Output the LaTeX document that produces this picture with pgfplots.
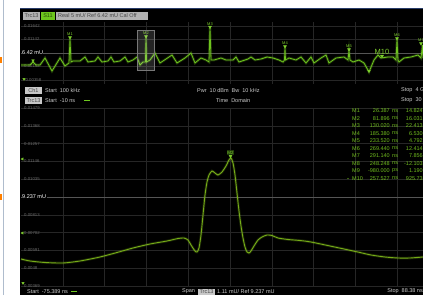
\documentclass[border=0pt]{standalone}
\usepackage{pgfplots}
\pgfplotsset{compat=1.18}
\usepackage{fontspec}
\setmainfont{Liberation Sans}
\definecolor{gridc}{RGB}{38,38,38}
\definecolor{refc}{RGB}{85,85,85}
\definecolor{trc}{RGB}{110,196,30}
\definecolor{trcb}{RGB}{118,172,24}
\definecolor{mkc}{RGB}{125,205,45}
\definecolor{txt}{RGB}{205,205,205}
\definecolor{tickc}{RGB}{105,105,105}
\definecolor{tabg}{RGB}{178,178,178}
\definecolor{tabt}{RGB}{70,70,70}
\definecolor{tabgreen}{RGB}{110,200,30}
\definecolor{tbl}{RGB}{112,188,30}
\newcommand\ft{\fontsize{5.5}{6}\selectfont}
\newcommand\fs{\fontsize{4.3}{5}\selectfont}
\begin{document}
\begin{tikzpicture}[x=1pt,y=1pt]
\fill[white] (0,0) rectangle (423,295);
\fill[black] (20,0) rectangle (423,295-8);
\draw[color={rgb,255:red,40;green,60;blue,105}, line width=0.8pt] (20,295-8.4) -- (423,295-8.4);
\draw[color={rgb,255:red,175;green,188;blue,205}, line width=0.6pt] (3,0) -- (3,295);
\fill[orange] (0,295-57) rectangle (2,295-63);
\fill[orange] (0,295-194) rectangle (2,295-200);
% tab bar
\fill[tabg] (23,295-12) rectangle (40,295-20);
\node[font=\ft, text=tabt, inner sep=0pt] at (31.5,295-16) {Trc13};
\fill[tabgreen] (41,295-12) rectangle (55,295-20);
\node[font=\ft, text={rgb,255:red,40;green,80;blue,10}, inner sep=0pt] at (48,295-16) {S11};
\fill[tabg] (56,295-12) rectangle (148,295-20);
\node[font=\ft, text=tabt, inner sep=0pt, anchor=west] at (58,295-16) {Real 5 mU/ Ref 6.42 mU Cal Off};

% ---------------- top panel ----------------
\begin{axis}[at={(21pt,211pt)}, anchor=south west, scale only axis,
  width=402pt, height=62pt, xmin=21, xmax=423, ymin=22, ymax=84, y dir=reverse,
  clip=false, axis line style={draw=none}, major tick length=0pt,
  xtick={62.8,104.6,146.4,188.2,230,271.8,313.6,355.4,397.2}, xticklabels={},
  ytick={26,39.5,66.5,80}, yticklabels={0.01642,0.01142,0.00142,-0.00358},
  extra y ticks={53}, extra y tick labels={},
  extra y tick style={grid style={refc, line width=0.6pt}},
  grid=major, grid style={gridc, line width=0.6pt},
  yticklabel style={anchor=west, font=\fs, text=tickc, inner sep=0pt, xshift=3pt}]
\addplot[trc, line width=2.6pt, opacity=0.25] coordinates {
(21,65)(30,65)(33,62)(36,65)(40,65)(45,58)(52,71)(60,58)(65,66)(69,63)(70,39)(71,62)
(73,61)(80,61)(85,57)(88,62)(95,61)(98,57)(102,62)(108,61)(111,57)(114,62)(120,61)
(125,57)(128,62)(133,60)(137,57)(140,65)(143,62)(145.5,62)(146,38)(146.5,62)(150,60)
(155,53)(160,63)(166,59)(172,55)(177,63)(185,58)(191,53)(195,63)(201,58)(206,60)
(209,62)(210,28)(211,60)(214,60)(221,58)(226,60)(233,60)(236,57)(239,62)(248,59)
(251,57)(255,60)(261,59)(267,57)(273,58)(279,60)(283,62)(284.5,60)(285,48)(285.5,60)
(289,58)(296,60)(301,57)(306,63)(311,57)(314,63)(321,58)(326,55)(329,63)(336,58)
(344,57)(348,60)(349,51)(350,60)(353,62)(359,60)(364,63)(369,72)(374,60)(378,55)
(381,58)(388,57)(393,57)(396,60)(397,40)(398,60)(399,62)(404,58)(411,57)(418,55)
(421,58)(422.5,45)(423,58)};
\addplot[trc, line width=0.8pt] coordinates {
(21,65)(30,65)(33,62)(36,65)(40,65)(45,58)(52,71)(60,58)(65,66)(69,63)(70,39)(71,62)
(73,61)(80,61)(85,57)(88,62)(95,61)(98,57)(102,62)(108,61)(111,57)(114,62)(120,61)
(125,57)(128,62)(133,60)(137,57)(140,65)(143,62)(145.5,62)(146,38)(146.5,62)(150,60)
(155,53)(160,63)(166,59)(172,55)(177,63)(185,58)(191,53)(195,63)(201,58)(206,60)
(209,62)(210,28)(211,60)(214,60)(221,58)(226,60)(233,60)(236,57)(239,62)(248,59)
(251,57)(255,60)(261,59)(267,57)(273,58)(279,60)(283,62)(284.5,60)(285,48)(285.5,60)
(289,58)(296,60)(301,57)(306,63)(311,57)(314,63)(321,58)(326,55)(329,63)(336,58)
(344,57)(348,60)(349,51)(350,60)(353,62)(359,60)(364,63)(369,72)(374,60)(378,55)
(381,58)(388,57)(393,57)(396,60)(397,40)(398,60)(399,62)(404,58)(411,57)(418,55)
(421,58)(422.5,45)(423,58)};
\addplot[only marks, mark=triangle*, mark size=1.7pt,
  mark options={rotate=180, fill=mkc, draw=mkc},
  point meta=explicit symbolic, nodes near coords,
  nodes near coords style={font=\fontsize{4}{4}\selectfont, text=mkc, anchor=south, inner sep=0.3pt, yshift=1.4pt}]
  coordinates {(70,37.5)[M1] (146,36.5)[M2] (210,27)[M3] (285,46.5)[M4] (349,49.5)[M5] (397,38.5)[M6] (421,43.5)[M7]};
\addplot[only marks, mark=triangle*, mark size=1.5pt,
  mark options={rotate=180, fill=mkc, draw=mkc}]
  coordinates {(369,71) (33,60.5)};
\addplot[only marks, mark=triangle*, mark size=1.8pt,
  mark options={rotate=180, fill=mkc, draw=mkc},
  point meta=explicit symbolic, nodes near coords,
  nodes near coords style={font=\fontsize{7.5}{8}\selectfont, text=mkc, anchor=south, inner sep=0.3pt, yshift=1.2pt}]
  coordinates {(382,56)[M10]};
\addplot[only marks, mark=triangle*, mark size=1.4pt,
  mark options={rotate=180, fill=mkc, draw=mkc}] coordinates {(24,79)};
\end{axis}
\node[font=\ft, text=white, fill=black, inner sep=0.5pt, anchor=west] at (21.5,295-52.5) {6.42 mU};
% highlight box around M2
\fill[white, opacity=0.14] (137,295-30) rectangle (154,295-70);
\draw[color={rgb,255:red,120;green,120;blue,120}, line width=0.5pt] (137,295-30) rectangle (154,295-70);

% ---------------- status lines ----------------
\fill[color={rgb,255:red,200;green,200;blue,200}] (25,295-87) rectangle (42,295-94);
\node[font=\ft, text=tabt, inner sep=0pt] at (33.5,295-90.5) {Ch1};
\node[font=\ft, text=txt, inner sep=0pt, anchor=west] at (45,295-90.5) {Start\ \ 100 kHz};
\node[font=\ft, text=txt, inner sep=0pt, anchor=west] at (197,295-90.5) {Pwr\ \ 10 dBm\ \ Bw\ \ 10 kHz};
\node[font=\ft, text=txt, inner sep=0pt, anchor=west] at (401,295-90.5) {Stop\ \ 4 G};
\fill[color={rgb,255:red,200;green,200;blue,200}] (25,295-97) rectangle (42,295-104);
\node[font=\ft, text=tabt, inner sep=0pt] at (33.5,295-100.5) {Trc13};
\node[font=\ft, text=txt, inner sep=0pt, anchor=west] at (45,295-100.5) {Start\ \ -10 ns};
\draw[tabgreen, line width=0.9pt] (84,295-100.5) -- (90,295-100.5);
\node[font=\ft, text=txt, inner sep=0pt, anchor=west] at (216,295-100.5) {Time\ \ Domain};
\node[font=\ft, text=txt, inner sep=0pt, anchor=west] at (401,295-100.5) {Stop\ \ 30};

% ---------------- bottom panel ----------------
\begin{axis}[at={(21pt,9pt)}, anchor=south west, scale only axis,
  width=402pt, height=178pt, xmin=21, xmax=423, ymin=108, ymax=286, y dir=reverse,
  clip=false, axis line style={draw=none}, major tick length=0pt,
  xtick={62.8,104.6,146.4,188.2,230,271.8,313.6,355.4,397.2}, xticklabels={},
  ytick={108,125.8,143.6,161.4,179.2,214.8,232.6,250.4,268.2,286},
  yticklabels={0.01479,0.01368,0.01257,0.01146,0.01035,0.00813,0.00702,0.00591,0.0048,0.00369},
  extra y ticks={197}, extra y tick labels={},
  extra y tick style={grid style={refc, line width=0.6pt}},
  grid=major, grid style={gridc, line width=0.6pt},
  yticklabel style={anchor=west, font=\fs, text=tickc, inner sep=0pt, xshift=3pt}]
\addplot[trcb, line width=2.6pt, opacity=0.22, smooth, tension=0.4] coordinates {
(21,259)(30,261)(45,262.5)(63,263)(80,261)(100,257)(117,252.5)(133,248)(150,244)
(167,241)(178,238.5)(184,238)(188,240)(191,245)(195,251)(197,252)(199,248)(201,235)
(203,215)(205,195)(207,182)(209,175)(212,171)(215,173)(218,175)(222,172)(226,166)
(229,160)(231,158)(233,163)(235,175)(237,193)(239,211)(241,226)(243,238)(245,247)
(247,252)(249,253)(251,251)(254,246)(258,240)(262,237)(267,235)(272,235.5)(278,238)
(288,239.5)(300,240.5)(311,242)(330,246)(344,249)(360,252.5)(371,255)(385,257)
(398,258)(410,258)(423,257)};
\addplot[trcb, line width=0.9pt, smooth, tension=0.4] coordinates {
(21,259)(30,261)(45,262.5)(63,263)(80,261)(100,257)(117,252.5)(133,248)(150,244)
(167,241)(178,238.5)(184,238)(188,240)(191,245)(195,251)(197,252)(199,248)(201,235)
(203,215)(205,195)(207,182)(209,175)(212,171)(215,173)(218,175)(222,172)(226,166)
(229,160)(231,158)(233,163)(235,175)(237,193)(239,211)(241,226)(243,238)(245,247)
(247,252)(249,253)(251,251)(254,246)(258,240)(262,237)(267,235)(272,235.5)(278,238)
(288,239.5)(300,240.5)(311,242)(330,246)(344,249)(360,252.5)(371,255)(385,257)
(398,258)(410,258)(423,257)};
\addplot[only marks, mark=triangle*, mark size=1.8pt,
  mark options={rotate=180, fill=mkc, draw=mkc},
  point meta=explicit symbolic, nodes near coords,
  nodes near coords style={font=\fontsize{4.5}{5}\selectfont, text=mkc, anchor=south, inner sep=0.5pt, yshift=1.3pt,
    fill={rgb,255:red,30;green,55;blue,10}}]
  coordinates {(230.5,156)[M2]};
\addplot[only marks, mark=triangle*, mark size=1.4pt,
  mark options={rotate=90, fill=mkc, draw=mkc}] coordinates {(22.5,159) (22.5,233)};
\addplot[only marks, mark=triangle*, mark size=1.4pt,
  mark options={rotate=180, fill=mkc, draw=mkc}] coordinates {(23,283)};
\end{axis}
\node[font=\ft, text=white, fill=black, inner sep=0.5pt, anchor=west] at (21.5,295-197) {9.237 mU};

% marker table
\foreach \n/\v/\u/\w [count=\i from 0] in {M1/26.387/ns/14.824, M2/81.896/ns/16.031, M3/130.020/ns/22.413,
  M4/185.380/ns/6.530, M5/233.520/ns/4.792, M6/269.440/ns/12.414, M7/291.140/ns/7.856,
  M8/248.248/ns/-12.103, M9/-980.000/ps/1.190, M10/257.527/ns/925.73}{
  \node[font=\ft, text=tbl, inner sep=0pt, anchor=west] at (352,184-7.5*\i) {\n};
  \node[font=\ft, text=tbl, inner sep=0pt, anchor=east] at (390,184-7.5*\i) {\v};
  \node[font=\ft, text=tbl, inner sep=0pt, anchor=west] at (392,184-7.5*\i) {\u};
  \node[font=\ft, text=tbl, inner sep=0pt, anchor=east] at (423,184-7.5*\i) {\w};
}
\fill[tbl] (348,295-178.5) circle (0.7);

% bottom line
\node[font=\ft, text=txt, inner sep=0pt, anchor=west] at (27,295-291.5) {Start\ \ -75.389 ns};
\draw[tabgreen, line width=0.9pt] (71,295-291.5) -- (77,295-291.5);
\node[font=\ft, text=txt, inner sep=0pt, anchor=west] at (182,295-291.5) {Span};
\fill[color={rgb,255:red,200;green,200;blue,200}] (198,295-288.5) rectangle (215,0);
\node[font=\ft, text=tabt, inner sep=0pt] at (206.5,295-291.5) {Trc13};
\node[font=\ft, text=txt, inner sep=0pt, anchor=west] at (217,295-291.5) {1.11 mU/ Ref 9.237 mU};
\node[font=\ft, text=txt, inner sep=0pt, anchor=east] at (423,295-291.5) {Stop\ \ 88.38 ns};
\pgfresetboundingbox
\path[use as bounding box] (0,0) rectangle (423,295);
\end{tikzpicture}
\end{document}
